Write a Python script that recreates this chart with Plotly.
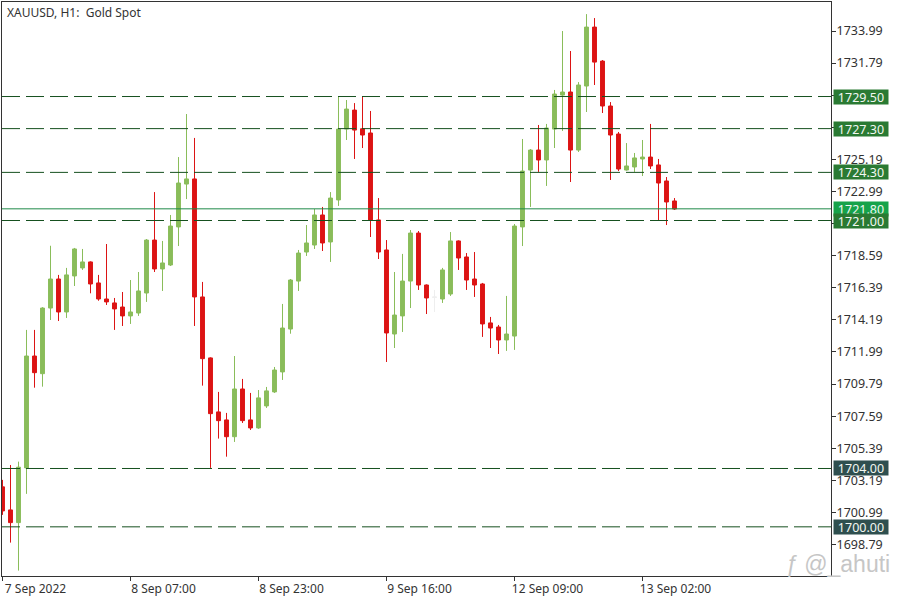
import plotly.graph_objects as go

opens = [1702.74,1701.16,1700.29,1704.04,1711.71,1710.50,1715.00,1716.99,1714.73,1717.20,
         1717.75,1718.16,1716.72,1715.62,1715.35,1715.07,1714.46,1714.66,1716.03,1719.66,
         1717.68,1717.95,1720.56,1723.50,1723.85,1715.76,1711.58,1707.88,1707.33,1706.18,
         1709.45,1707.33,1706.78,1708.29,1709.25,1710.62,1713.56,1716.85,1718.84,1719.32,
         1721.38,1719.53,1722.41,1727.27,1728.57,1727.29,1727.00,1721.04,1718.98,1713.22,
         1714.46,1716.85,1720.14,1716.58,1715.76,1715.62,1715.96,1719.60,1718.50,1716.99,
         1716.65,1713.98,1713.70,1712.81,1713.08,1720.56,1724.46,1725.83,1725.15,1727.27,
         1729.60,1729.81,1725.83,1730.22,1734.26,1731.93,1728.85,1726.93,1724.46,1724.67,
         1725.22,1725.35,1724.81,1723.71,1722.34]
highs = [1703.22,1704.24,1704.47,1713.50,1713.50,1715.06,1719.27,1717.27,1717.75,1719.12,
         1719.05,1718.20,1717.27,1719.39,1715.69,1716.10,1716.92,1717.47,1719.73,1722.95,
         1719.60,1721.38,1725.35,1728.30,1726.66,1716.79,1711.62,1709.25,1707.81,1711.71,
         1710.14,1709.18,1709.38,1709.59,1710.96,1715.28,1716.99,1718.98,1720.69,1721.79,
         1721.93,1722.95,1729.53,1729.26,1729.05,1729.53,1728.51,1722.54,1719.66,1717.47,
         1718.71,1720.35,1720.28,1716.62,1716.24,1717.75,1720.21,1719.64,1718.77,1718.84,
         1716.72,1714.39,1713.84,1715.83,1720.76,1726.59,1725.90,1727.55,1727.62,1729.95,
         1733.99,1732.62,1730.49,1735.15,1734.88,1732.00,1729.12,1727.07,1726.31,1725.63,
         1726.52,1727.62,1725.22,1723.98,1722.54]
lows = [1700.82,1698.92,1697.00,1702.26,1709.54,1709.61,1714.18,1714.11,1714.32,1716.51,
        1717.61,1716.01,1715.50,1715.21,1713.50,1713.77,1713.91,1714.46,1715.42,1717.47,
        1716.17,1717.88,1719.25,1722.47,1713.77,1709.68,1704.04,1706.05,1704.81,1705.82,
        1707.12,1706.64,1706.72,1708.15,1709.18,1710.07,1713.24,1716.17,1718.57,1719.05,
        1718.91,1718.16,1722.00,1726.52,1725.22,1725.97,1719.87,1718.36,1711.30,1712.26,
        1713.36,1715.00,1716.24,1714.59,1714.73,1715.35,1715.83,1717.61,1716.24,1715.76,
        1713.02,1712.26,1711.85,1712.06,1712.13,1719.25,1721.93,1724.33,1723.37,1725.97,
        1727.14,1723.64,1725.70,1728.44,1730.29,1728.37,1723.78,1724.39,1724.42,1724.33,
        1724.05,1724.53,1720.97,1720.69,1721.72]
closes = [1701.09,1700.29,1704.09,1711.71,1710.57,1715.00,1716.99,1714.73,1717.27,1719.05,
          1718.16,1716.65,1715.62,1715.42,1714.94,1714.46,1714.73,1716.17,1719.66,1717.68,
          1718.09,1720.62,1723.57,1723.85,1715.76,1711.53,1707.76,1707.28,1706.18,1709.45,
          1707.28,1706.78,1708.84,1709.32,1710.75,1713.63,1716.92,1718.77,1719.46,1721.38,
          1719.46,1722.54,1727.27,1728.64,1727.20,1726.86,1721.04,1718.84,1713.29,1714.52,
          1716.85,1720.14,1716.58,1715.69,1715.74,1717.61,1719.60,1718.43,1716.92,1716.58,
          1713.91,1713.63,1712.81,1713.22,1720.62,1724.39,1725.83,1725.15,1727.34,1729.67,
          1729.81,1725.83,1730.29,1734.26,1731.86,1728.85,1726.86,1724.53,1724.74,1725.29,
          1725.35,1724.74,1723.57,1722.27,1721.79]
pale_candles = [54]

y_ticks = [1733.99,1731.79,1729.59,1727.39,1725.19,1722.99,1720.79,1718.59,1716.39,
           1714.19,1711.99,1709.79,1707.59,1705.39,1703.19,1700.99,1698.79]
x_tick_pos = [0,16,32,48,64,80]
x_tick_labels = ["7 Sep 2022","8 Sep 07:00","8 Sep 23:00","9 Sep 16:00","12 Sep 09:00","13 Sep 02:00"]

levels_green = [1729.50,1727.30,1724.30,1721.00]
levels_dark = [1704.00,1700.00]
current_price = 1721.80

GREEN = "#8abd5a"
RED = "#dc1414"
AXIS = "#333333"
FONT = "Noto Sans"

idx = list(range(len(opens)))
main = [i for i in idx if i not in pale_candles]

fig = go.Figure()
fig.add_trace(go.Candlestick(
    x=main,
    open=[opens[i] for i in main], high=[highs[i] for i in main],
    low=[lows[i] for i in main], close=[closes[i] for i in main],
    whiskerwidth=0,
    increasing=dict(line=dict(color=GREEN, width=1), fillcolor=GREEN),
    decreasing=dict(line=dict(color=RED, width=1), fillcolor=RED),
    showlegend=False,
))
fig.add_trace(go.Candlestick(
    x=pale_candles,
    open=[opens[i] for i in pale_candles], high=[highs[i] for i in pale_candles],
    low=[lows[i] for i in pale_candles], close=[closes[i] for i in pale_candles],
    whiskerwidth=0,
    increasing=dict(line=dict(color="#eeeeee", width=1), fillcolor="#eeeeee"),
    decreasing=dict(line=dict(color="#eeeeee", width=1), fillcolor="#eeeeee"),
    showlegend=False,
))

shapes = []
for lv in levels_green + levels_dark:
    shapes.append(dict(type="line", xref="paper", x0=0, x1=1, yref="y", y0=lv, y1=lv,
                       line=dict(color="#16501f", width=1, dash="18px,6px"), layer="above"))
shapes.append(dict(type="line", xref="paper", x0=0, x1=1, yref="y", y0=current_price, y1=current_price,
                   line=dict(color="#1f8a48", width=1), layer="above"))

def tag(v, bg):
    return dict(xref="paper", yref="y", x=1, y=v, xanchor="left", yanchor="middle", xshift=2,
                text=f"{v:.2f}", showarrow=False, width=54, height=14, align="center",
                bgcolor=bg, borderpad=0, font=dict(family=FONT, size=12.5, color="#f2f7f2"))

annotations = [dict(xref="paper", yref="paper", x=0, y=1, xanchor="left", yanchor="top",
                    xshift=3, yshift=0, text="XAUUSD, H1:  Gold Spot", showarrow=False,
                    font=dict(family=FONT, size=12, color=AXIS))]
annotations.append(tag(current_price, "#16a34a"))
for lv in levels_green:
    annotations.append(tag(lv, "#2a7a33"))
for lv in levels_dark:
    annotations.append(tag(lv, "#2f4f4f"))
annotations.append(dict(xref="paper", yref="paper", x=1, y=0, xanchor="center", yanchor="middle",
                        xshift=6, yshift=12, text="<i>ƒ</i> @_ahuti", showarrow=False,
                        font=dict(family="Liberation Sans", size=23, color="#c6c6c6")))

fig.update_layout(
    width=900, height=600,
    margin=dict(l=2, r=69, t=2, b=24),
    paper_bgcolor="white", plot_bgcolor="white",
    shapes=shapes, annotations=annotations,
    font=dict(family=FONT, size=12, color=AXIS),
    showlegend=False,
)
fig.update_xaxes(
    range=[-0.0625, 103.5625], rangeslider_visible=False, showgrid=False, zeroline=False,
    tickmode="array", tickvals=x_tick_pos, ticktext=x_tick_labels, ticks="outside", ticklen=4,
    tickcolor=AXIS, showline=True, linecolor=AXIS, linewidth=1, mirror=True,
    tickfont=dict(family=FONT, size=12, color=AXIS), ticklabelshift=33, ticklabelstandoff=-2,
)
fig.update_yaxes(
    range=[1696.63, 1735.98], side="right", showgrid=False, zeroline=False,
    tickmode="array", tickvals=y_ticks, ticktext=[f"{v:.2f}" for v in y_ticks],
    ticks="outside", ticklen=4, tickcolor=AXIS, showline=True, linecolor=AXIS, linewidth=1, mirror=True,
    tickfont=dict(family=FONT, size=12.5, color=AXIS), ticklabelstandoff=-2,
)
fig.write_html("out.html", config={"displayModeBar": False},
               post_script="document.body.style.margin='0';document.documentElement.style.overflow='hidden';")
